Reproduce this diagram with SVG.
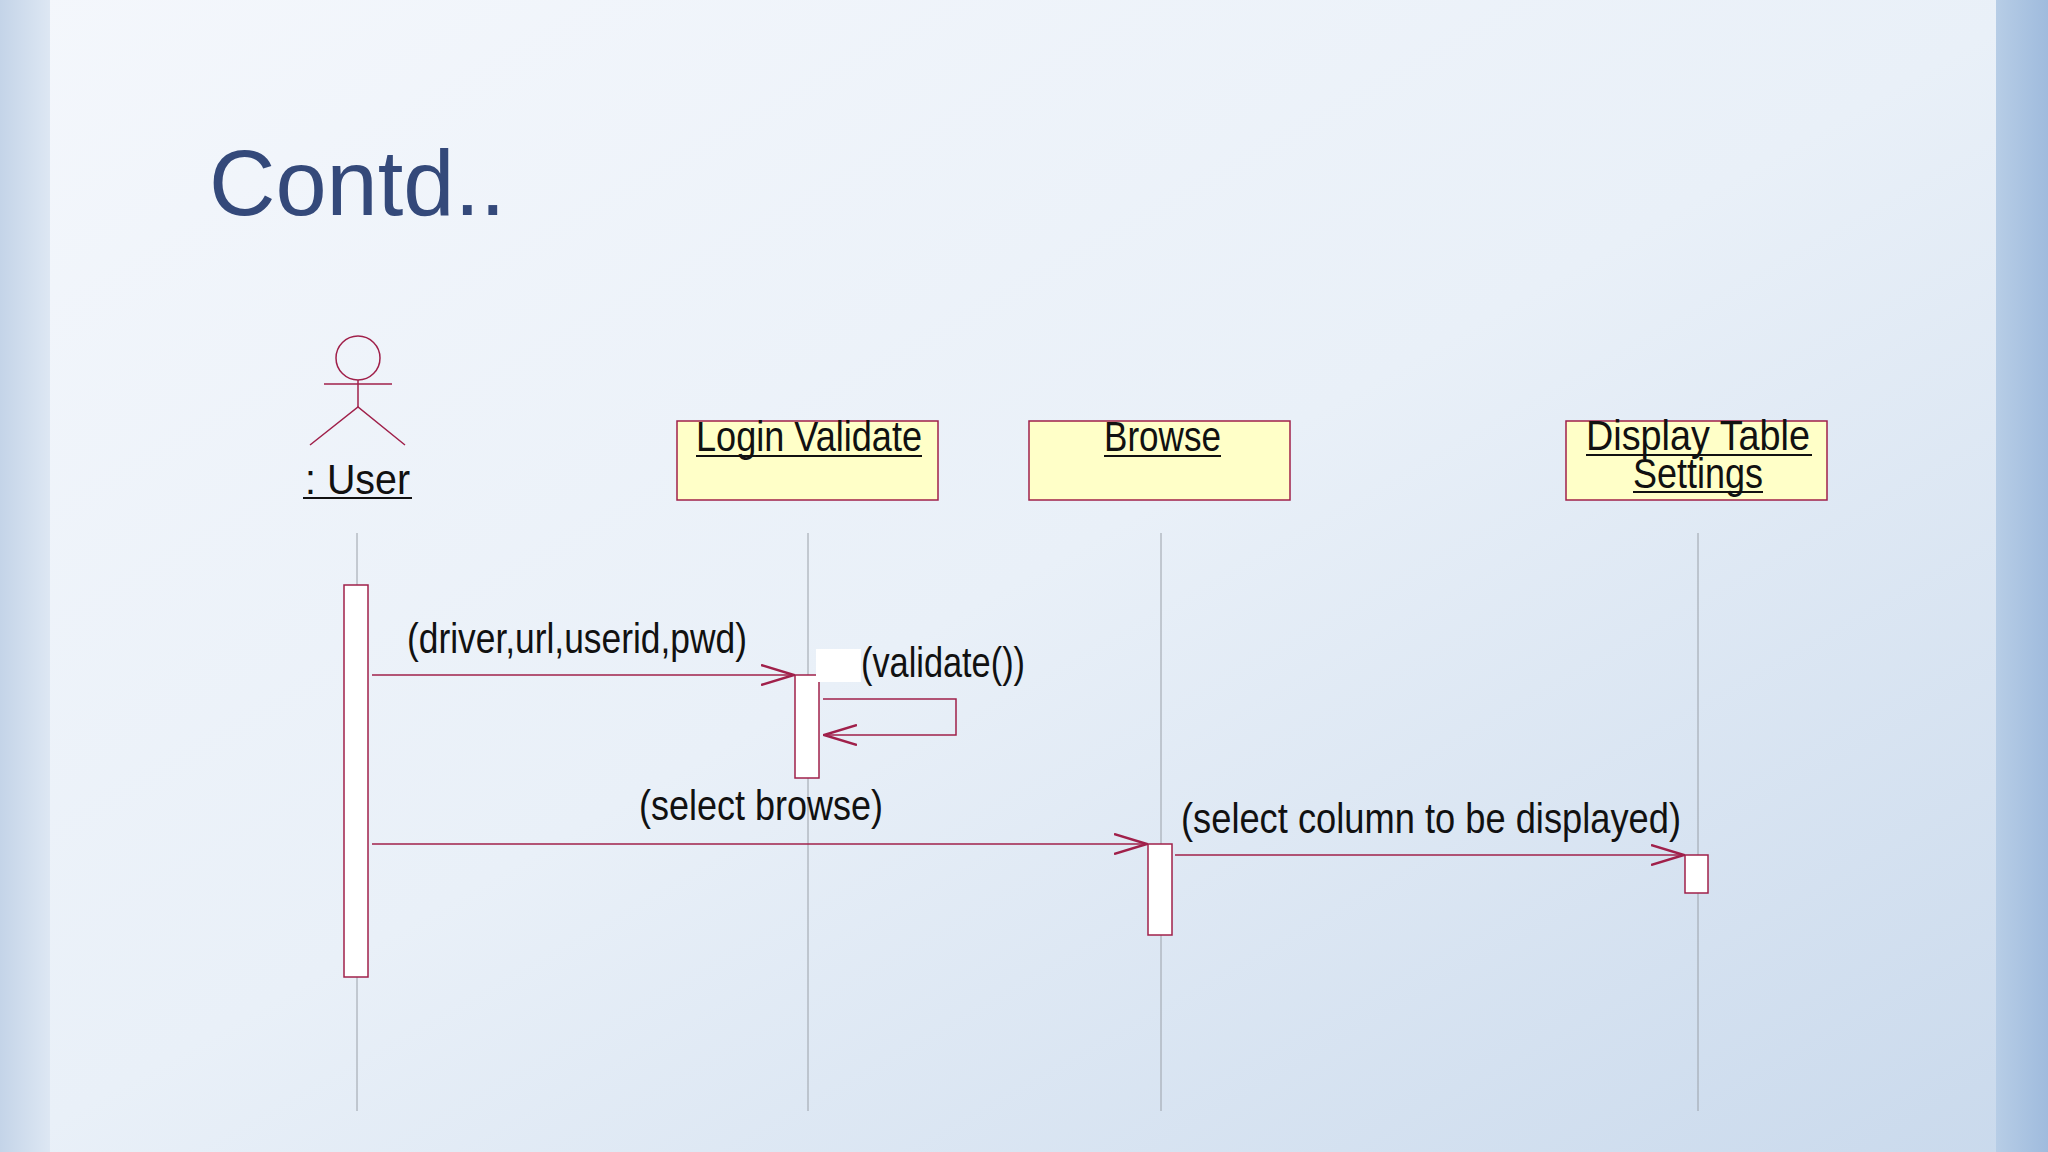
<svg xmlns="http://www.w3.org/2000/svg" width="2048" height="1152" viewBox="0 0 2048 1152">
<defs>
<linearGradient id="bg" x1="0" y1="0" x2="1" y2="1">
<stop offset="0" stop-color="#f4f7fc"/><stop offset="0.5" stop-color="#e9f0f8"/><stop offset="1" stop-color="#c9d9ec"/>
</linearGradient>
<linearGradient id="edgeL" x1="0" x2="1"><stop offset="0" stop-color="#c4d4e8"/><stop offset="1" stop-color="#dde7f3"/></linearGradient>
<linearGradient id="edgeR" x1="0" x2="1"><stop offset="0" stop-color="#b7cde6"/><stop offset="1" stop-color="#9fbbdd"/></linearGradient>
<marker id="open" viewBox="0 0 34 22" refX="34" refY="11" markerWidth="34" markerHeight="22" markerUnits="userSpaceOnUse" orient="auto">
<path d="M0,1 L33,11 L0,21" fill="none" stroke="#a0204a" stroke-width="2.5"/>
</marker>
<style>
.t{font-family:"Liberation Sans",Arial,sans-serif;fill:#111;font-size:42px}
.box{fill:#ffffc8;stroke:#a0204a;stroke-width:1.5}
.life{stroke:#9aa0a8;stroke-width:1}
.act{fill:#fff;stroke:#a0204a;stroke-width:1.5}
.msg{stroke:#a0204a;stroke-width:1.5;fill:none;marker-end:url(#open)}
.u{stroke:#111;stroke-width:2}
</style>
</defs>
<rect width="2048" height="1152" fill="url(#bg)"/>
<rect x="0" y="0" width="50" height="1152" fill="url(#edgeL)"/>
<rect x="1996" y="0" width="52" height="1152" fill="url(#edgeR)"/>
<text x="209" y="215" font-family="Liberation Sans,Arial,sans-serif" font-size="92" fill="#34497a">Contd..</text>

<g id="user">
<circle cx="358" cy="358" r="22" fill="none" stroke="#a0204a" stroke-width="1.5"/>
<line x1="358" y1="380" x2="358" y2="407" stroke="#a0204a" stroke-width="1.5"/>
<line x1="324" y1="384" x2="392" y2="384" stroke="#a0204a" stroke-width="1.5"/>
<polyline points="310,445 358,407 405,445" fill="none" stroke="#a0204a" stroke-width="1.5"/>
<text class="t" x="305" y="494" textLength="105" lengthAdjust="spacingAndGlyphs">: User</text>
<line class="u" x1="303" y1="498" x2="412" y2="498"/>
</g>
<g id="login">
<rect class="box" x="677" y="421" width="261" height="79"/>
<text class="t" x="696" y="451" textLength="226" lengthAdjust="spacingAndGlyphs">Login Validate</text>
<line class="u" x1="696" y1="456" x2="922" y2="456"/>
</g>
<g id="browse">
<rect class="box" x="1029" y="421" width="261" height="79"/>
<text class="t" x="1104" y="451" textLength="117" lengthAdjust="spacingAndGlyphs">Browse</text>
<line class="u" x1="1104" y1="456" x2="1221" y2="456"/>
</g>
<g id="display">
<rect class="box" x="1566" y="421" width="261" height="79"/>
<text class="t" x="1586" y="450" font-size="40" textLength="224" lengthAdjust="spacingAndGlyphs">Display Table</text>
<line class="u" x1="1586" y1="455" x2="1812" y2="455"/>
<text class="t" x="1633" y="488" font-size="40" textLength="130" lengthAdjust="spacingAndGlyphs">Settings</text>
<line class="u" x1="1633" y1="492" x2="1763" y2="492"/>
</g>

<g id="lifelines">
<line class="life" x1="357" y1="533" x2="357" y2="1111"/>
<line class="life" x1="808" y1="533" x2="808" y2="1111"/>
<line class="life" x1="1161" y1="533" x2="1161" y2="1111"/>
<line class="life" x1="1698" y1="533" x2="1698" y2="1111"/>
</g>
<g id="activations">
<rect class="act" x="344" y="585" width="24" height="392"/>
<rect class="act" x="795" y="675" width="24" height="103"/>
<rect class="act" x="1148" y="844" width="24" height="91"/>
<rect class="act" x="1685" y="855" width="23" height="38"/>
</g>
<g id="connectors">
<line class="msg" x1="372" y1="675" x2="795" y2="675"/>
<polyline class="msg" points="823,699 956,699 956,735 823,735"/>
<line class="msg" x1="372" y1="844" x2="1148" y2="844"/>
<line class="msg" x1="1175" y1="855" x2="1685" y2="855"/>
</g>
<g id="labels">
<text class="t" x="407" y="653" textLength="340" lengthAdjust="spacingAndGlyphs">(driver,url,userid,pwd)</text>
<rect x="816" y="649" width="45" height="33" fill="#fff"/>
<text class="t" x="861" y="677" textLength="164" lengthAdjust="spacingAndGlyphs">(validate())</text>
<text class="t" x="639" y="820" textLength="244" lengthAdjust="spacingAndGlyphs">(select browse)</text>
<text class="t" x="1181" y="833" textLength="500" lengthAdjust="spacingAndGlyphs">(select column to be displayed)</text>
</g>
</svg>
